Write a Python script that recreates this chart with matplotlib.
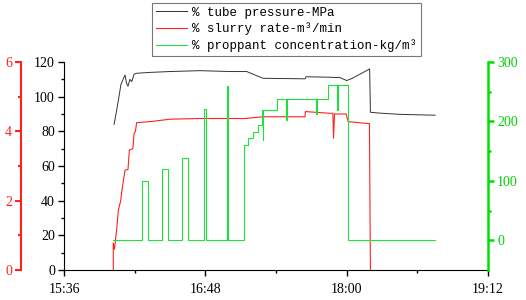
import numpy as np
import matplotlib
matplotlib.use('Agg')
import matplotlib.pyplot as plt
from matplotlib.ticker import FixedLocator

# time axis in minutes after 15:36
x_ticks = [0, 72, 144, 216]
x_tick_labels = ['15:36', '16:48', '18:00', '19:12']
x_minor = [36, 108, 180]

# tube pressure (MPa)
t_pressure = [25.5, 26.5, 28.0, 29.0, 30.1, 31.1, 31.8, 32.6, 33.6, 34.5, 35.7, 37.0,
              43.8, 54.0, 69.3, 84.6, 93.1, 97.3, 101.4, 122.8, 123.3, 135.5, 140.6,
              144.0, 146.7, 150.8, 154.9, 155.7, 156.1, 160.9, 171.2, 189.0]
pressure = [84, 90, 100, 107, 110, 112.5, 108, 106, 110, 108.7, 113, 113.5,
            114, 114.5, 115, 114.5, 114.5, 112.5, 110.6, 110.3, 111.5, 111.2, 111,
            109.3, 110.5, 113, 115.5, 116, 91, 90.5, 89.8, 89.3]

# slurry rate (m3/min)
t_rate = [25.1, 25.1, 25.7, 26.8, 27.7, 28.9, 29.5, 31.1, 32.6, 33.3, 35.1, 35.7,
          36.4, 37.0, 43.8, 54.0, 69.3, 92.2, 101.4, 122.8, 123.0, 135.5, 137.0,
          137.3, 137.8, 143.7, 144.8, 155.6, 156.1]
rate = [0, 0.78, 0.6, 1.15, 1.73, 2.0, 2.3, 2.88, 2.9, 3.46, 3.5, 3.95,
        4.0, 4.25, 4.28, 4.35, 4.37, 4.37, 4.42, 4.42, 4.57, 4.52, 4.52,
        3.8, 4.5, 4.5, 4.28, 4.22, 0]

# proppant concentration (kg/m3), step data
t_conc = [25.1, 39.9, 43.0, 50.1, 53.2, 60.3, 63.0, 71.5, 72.3, 82.9, 83.7, 91.7,
          93.9, 96.4, 99.0, 101.0, 101.3, 101.6, 108.3, 113.3, 113.7, 128.3, 128.7,
          134.7, 139.1, 139.5, 144.8, 189.0]
conc = [0, 100, 0, 120, 0, 139, 0, 221, 0, 260, 0, 161,
        172, 183, 194, 219, 168, 219, 238, 202, 238, 213, 238,
        261, 220, 261, 0, 0]

RED = '#ff2020'
GREEN = '#20e040'
tick_font = {'family': 'Liberation Serif', 'size': 10}

fig = plt.figure(figsize=(5.26, 3.0), dpi=100)
ax = fig.add_axes([64 / 526, 30 / 300, 424 / 526, 208 / 300])

l1, = ax.plot(t_pressure, pressure, color='#333333', lw=0.7,
              label='% tube pressure-MPa')
ax.set_xlim(0, 216)
ax.set_ylim(0, 120)
ax.set_xticks(x_ticks)
ax.set_xticklabels(x_tick_labels, fontdict=tick_font)
ax.xaxis.set_minor_locator(FixedLocator(x_minor))
ax.set_yticks(np.arange(0, 121, 20))
ax.set_yticklabels([str(v) for v in range(0, 121, 20)], fontdict=tick_font)
ax.yaxis.set_minor_locator(FixedLocator(np.arange(10, 120, 20)))
ax.tick_params(which='major', length=4.5, width=1, direction='out', pad=2)
ax.tick_params(which='minor', length=2.5, width=1, direction='out')
ax.tick_params(axis='x', which='major', pad=5)
ax.spines['top'].set_visible(False)
ax.spines['right'].set_visible(False)

# slurry rate axis (offset left)
ax_rate = ax.twinx()
l2, = ax_rate.plot(t_rate, rate, color=RED, lw=0.8, label='% slurry rate-m³/min')
ax_rate.set_ylim(0, 6)
ax_rate.yaxis.set_ticks_position('left')
ax_rate.yaxis.set_label_position('left')
ax_rate.spines['left'].set_position(('outward', 31))
ax_rate.spines['left'].set_color(RED)
ax_rate.spines['left'].set_linewidth(1.5)
for s in ['right', 'top', 'bottom']:
    ax_rate.spines[s].set_visible(False)
ax_rate.set_yticks([0, 2, 4, 6])
ax_rate.set_yticklabels(['0', '2', '4', '6'], fontdict=tick_font, color=RED)
ax_rate.yaxis.set_minor_locator(FixedLocator([1, 3, 5]))
ax_rate.tick_params(which='major', length=4.5, width=1.5, color=RED, pad=2)
ax_rate.tick_params(which='minor', length=2.5, width=1.5, color=RED)

# proppant concentration axis (right)
ax_conc = ax.twinx()
l3, = ax_conc.plot(t_conc, conc, color=GREEN, lw=0.8, drawstyle='steps-post',
                   label='% proppant concentration-kg/m³')
ax_conc.set_ylim(-50, 300)
ax_conc.spines['right'].set_color('#00e000')
ax_conc.spines['right'].set_linewidth(1.8)
for s in ['left', 'top', 'bottom']:
    ax_conc.spines[s].set_visible(False)
ax_conc.set_yticks([0, 100, 200, 300])
ax_conc.set_yticklabels(['0', '100', '200', '300'], fontdict=tick_font, color='#00d000')
ax_conc.yaxis.set_minor_locator(FixedLocator([50, 150, 250]))
ax_conc.tick_params(which='major', length=4.5, width=1.8, color='#00e000', pad=2)
ax_conc.tick_params(which='minor', length=2.5, width=1.8, color='#00e000')

leg = fig.legend(handles=[l1, l2, l3], loc='upper left',
                 bbox_to_anchor=(152 / 526, 1 - 3 / 300),
                 prop={'family': 'Liberation Mono', 'size': 9},
                 frameon=True, fancybox=False, edgecolor='#555555',
                 handlelength=2.5, handletextpad=0.4, labelspacing=0.3,
                 borderpad=0.3, borderaxespad=0)
leg.get_frame().set_linewidth(0.8)

fig.savefig('out.png', dpi=100)
